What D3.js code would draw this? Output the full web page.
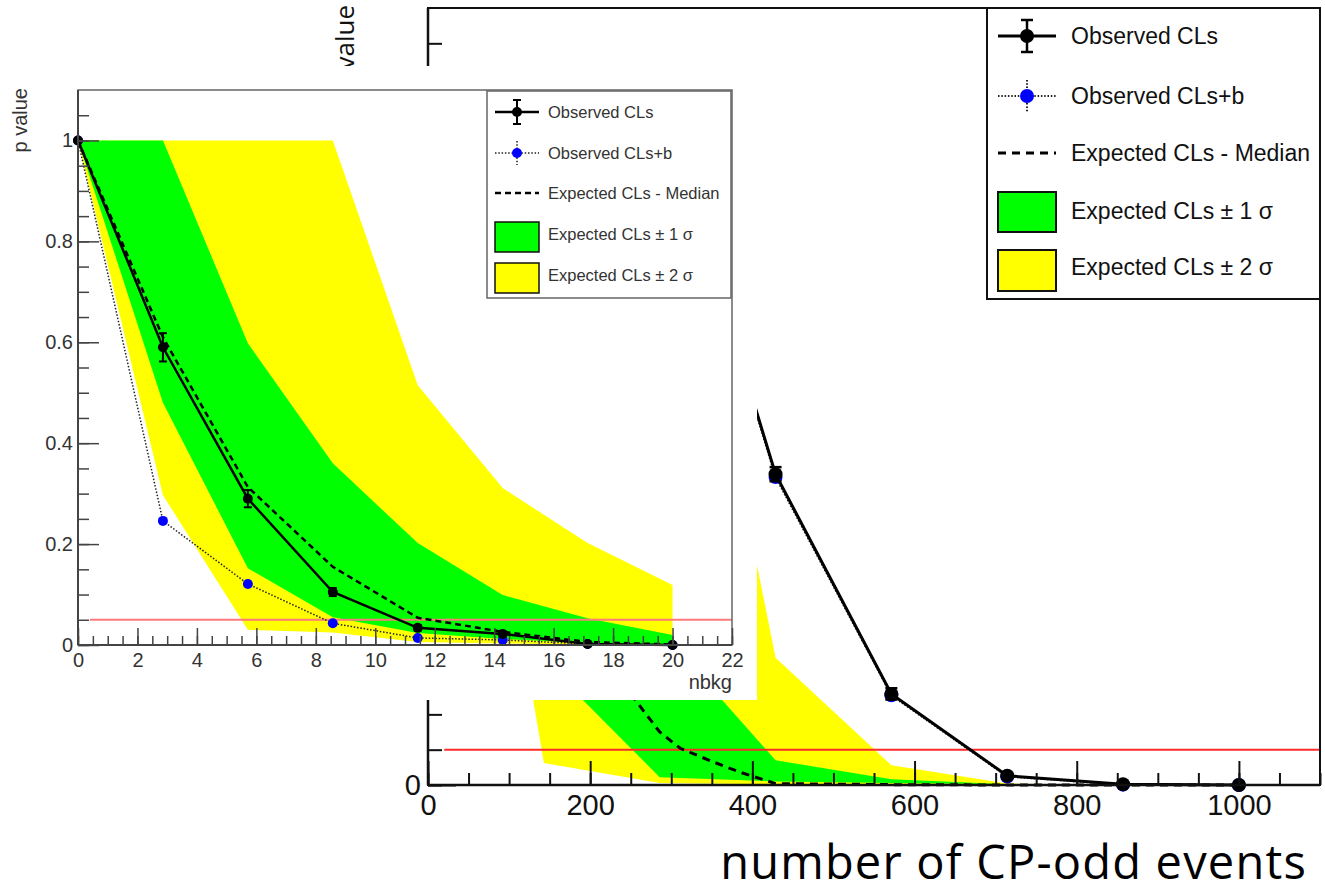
<!DOCTYPE html>
<html>
<head>
<meta charset="utf-8">
<script src="https://cdn.jsdelivr.net/npm/d3@7"></script>
<style>
  body { margin: 0; background: #fff; }
  svg { display: block; }
</style>
</head>
<body>
<svg id="chart"></svg>
<script>
// big scan: number of CP-odd events
const cpX = [0, 142.9, 285.7, 428.6, 571.4, 714.3, 857.1, 1000];
const cpObs = [1, 1, 0.98, 0.44, 0.129, 0.013, 0.001, 0];
const cpObsErr = [0, 0, 0.005, 0.01, 0.008, 0.004, 0.002, 0];
const cpClsb = [1, 1, 0.975, 0.436, 0.127, 0.012, 0.0005, 0];
const cpUp1 = [1, 1, 0.22, 0.035, 0.008, 0.001, 0, 0];
const cpLo1 = [1, 0.176, 0.011, 0.005, 0.003, 0.001, 0, 0];
const cpUp2 = [1, 1, 1, 0.18, 0.028, 0.002, 0, 0];
const cpLo2 = [1, 0.031, 0.003, 0.001, 0, 0, 0, 0];
const cpExpX = [0, 142.9, 285.7, 311, 351, 385, 428.6, 571.4, 714.3, 857.1, 1000];
const cpExp = [1, 0.29, 0.075, 0.052, 0.033, 0.018, 0.002, 0.0005, 0, 0, 0];

// inset scan: nbkg
const nbX = [0, 2.857, 5.714, 8.571, 11.429, 14.286, 17.143, 20];
const nbObs = [1, 0.59, 0.29, 0.105, 0.034, 0.022, 0.002, 0];
const nbObsErr = [0, 0.028, 0.017, 0.008, 0.005, 0.004, 0.002, 0];
const nbClsb = [1, 0.246, 0.121, 0.043, 0.014, 0.01, 0.002, 0];
const nbExp = [1, 0.61, 0.313, 0.155, 0.054, 0.026, 0.006, 0.001];
const nbUp1 = [1, 1, 0.598, 0.36, 0.202, 0.099, 0.053, 0.02];
const nbLo1 = [1, 0.48, 0.152, 0.055, 0.024, 0.012, 0.004, 0.001];
const nbUp2 = [1, 1, 1, 1, 0.515, 0.311, 0.202, 0.119];
const nbLo2 = [1, 0.297, 0.03, 0.025, 0.006, 0.003, 0.001, 0];

const clsLimit = 0.05;
const yMajor = [0, 0.2, 0.4, 0.6, 0.8, 1];
const yMinor = d3.range(0, 22).map(i => i * 0.05);
const cpMajor = [0, 200, 400, 600, 800, 1000];
const cpMinor = d3.range(0, 23).map(i => i * 50);
const nbMajor = d3.range(0, 12).map(i => i * 2);
const nbMinor = d3.range(0, 45).map(i => i * 0.5);

const legendLabels = ['Observed CLs', 'Observed CLs+b', 'Expected CLs - Median',
    'Expected CLs \u00b1 1 \u03c3', 'Expected CLs \u00b1 2 \u03c3'];

const rootFont = "'Liberation Sans', Arial, sans-serif";
const titleFont = "'Open Sans', sans-serif";

const svg = d3.select('#chart').attr('width', 1325).attr('height', 895);

const drawPanel = (p) => {
    const g = svg.append('g');
    const x = d3.scaleLinear().domain(p.xDomain).range([p.left, p.right]);
    const y = d3.scaleLinear().domain([0, 1.1]).range([p.bottom, p.top]);
    const zip = (xs, ...cols) => xs.map((v, i) => [v, ...cols.map(c => c[i])]);
    const band = d3.area().x(d => x(d[0])).y0(d => y(d[1])).y1(d => y(d[2]));
    const line = d3.line().x(d => x(d[0])).y(d => y(d[1]));

    g.append('path').attr('d', band(zip(p.xs, p.lo2, p.up2))).attr('fill', '#ffff00');
    g.append('path').attr('d', band(zip(p.xs, p.lo1, p.up1))).attr('fill', '#00ff00');

    g.append('line')
        .attr('x1', x(p.limitFrom)).attr('x2', p.right)
        .attr('y1', y(clsLimit)).attr('y2', y(clsLimit))
        .attr('stroke', p.red).attr('stroke-width', p.redWidth);

    g.append('path').attr('d', line(zip(p.expX, p.exp)))
        .attr('fill', 'none').attr('stroke', '#000')
        .attr('stroke-width', p.lineWidth).attr('stroke-dasharray', p.dash);

    g.append('path').attr('d', line(zip(p.xs, p.clsb)))
        .attr('fill', 'none').attr('stroke', '#222')
        .attr('stroke-width', p.dotWidth).attr('stroke-dasharray', '1.5,1.8');
    g.selectAll('.clsb').data(zip(p.xs, p.clsb)).enter().append('circle')
        .attr('cx', d => x(d[0])).attr('cy', d => y(d[1]))
        .attr('r', p.r).attr('fill', '#0000ff');

    g.append('path').attr('d', line(zip(p.xs, p.obs)))
        .attr('fill', 'none').attr('stroke', '#000').attr('stroke-width', p.lineWidth);
    const err = g.selectAll('.err').data(zip(p.xs, p.obs, p.obsErr).filter(d => d[2] > 0))
        .enter().append('g').attr('stroke', '#000').attr('stroke-width', p.errWidth);
    err.append('line')
        .attr('x1', d => x(d[0])).attr('x2', d => x(d[0]))
        .attr('y1', d => y(d[1] - d[2])).attr('y2', d => y(d[1] + d[2]));
    [-1, 1].forEach(s => err.append('line')
        .attr('x1', d => x(d[0]) - p.cap).attr('x2', d => x(d[0]) + p.cap)
        .attr('y1', d => y(d[1] + s * d[2])).attr('y2', d => y(d[1] + s * d[2])));
    g.selectAll('.obs').data(zip(p.xs, p.obs)).enter().append('circle')
        .attr('cx', d => x(d[0])).attr('cy', d => y(d[1]))
        .attr('r', p.r).attr('fill', '#000');

    // frame
    g.append('rect')
        .attr('x', p.left).attr('y', p.top)
        .attr('width', p.right - p.left).attr('height', p.bottom - p.top)
        .attr('fill', 'none').attr('stroke', p.frame).attr('stroke-width', p.frameWidth);

    const styleAxis = (a) => {
        a.select('.domain').remove();
        a.selectAll('line').attr('stroke', p.axis).attr('stroke-width', p.tickWidth);
        a.selectAll('text').attr('fill', p.text)
            .style('font-family', rootFont).style('font-size', p.labelSize + 'px');
    };
    g.append('g').attr('transform', `translate(${p.left},0)`)
        .call(d3.axisLeft(y).tickValues(yMinor).tickSize(-p.yMinorLen).tickFormat(''))
        .call(styleAxis);
    g.append('g').attr('transform', `translate(${p.left},0)`)
        .call(d3.axisLeft(y).tickValues(yMajor).tickSize(-p.yMajorLen)
            .tickPadding(p.yPad).tickFormat(v => p.yLabels.includes(v) ? d3.format('~g')(v) : ''))
        .call(styleAxis);
    g.append('g').attr('transform', `translate(0,${p.bottom})`)
        .call(d3.axisBottom(x).tickValues(p.xMinor.filter(v => v <= p.xDomain[1]))
            .tickSize(-p.xMinorLen).tickFormat(''))
        .call(styleAxis);
    g.append('g').attr('transform', `translate(0,${p.bottom})`)
        .call(d3.axisBottom(x).tickValues(p.xMajor).tickSize(-p.xMajorLen)
            .tickPadding(p.xPad).tickFormat(d3.format('~g')))
        .call(styleAxis);

    g.append('line').attr('x1', p.left).attr('x2', p.left)
        .attr('y1', p.top).attr('y2', p.bottom)
        .attr('stroke', p.axis).attr('stroke-width', p.axisWidth);
    g.append('line').attr('x1', p.left).attr('x2', p.right)
        .attr('y1', p.bottom).attr('y2', p.bottom)
        .attr('stroke', p.axis).attr('stroke-width', p.axisWidth);

    // legend
    const L = p.legend;
    g.append('rect')
        .attr('x', L.x0).attr('y', L.y0)
        .attr('width', L.x1 - L.x0).attr('height', L.y1 - L.y0)
        .attr('fill', '#fff').attr('stroke', p.frame).attr('stroke-width', p.frameWidth);
    const sx0 = L.sx0, sx1 = L.sx1, sxm = (sx0 + sx1) / 2;
    const rows = L.rows;
    g.append('line').attr('x1', sx0).attr('x2', sx1).attr('y1', rows[0]).attr('y2', rows[0])
        .attr('stroke', '#000').attr('stroke-width', p.lineWidth);
    g.append('line').attr('x1', sxm).attr('x2', sxm)
        .attr('y1', rows[0] - L.err).attr('y2', rows[0] + L.err)
        .attr('stroke', '#000').attr('stroke-width', p.errWidth);
    [-1, 1].forEach(s => g.append('line')
        .attr('x1', sxm - p.cap).attr('x2', sxm + p.cap)
        .attr('y1', rows[0] + s * L.err).attr('y2', rows[0] + s * L.err)
        .attr('stroke', '#000').attr('stroke-width', p.errWidth));
    g.append('circle').attr('cx', sxm).attr('cy', rows[0]).attr('r', p.r).attr('fill', '#000');

    g.append('line').attr('x1', sx0).attr('x2', sx1).attr('y1', rows[1]).attr('y2', rows[1])
        .attr('stroke', '#222').attr('stroke-width', p.dotWidth).attr('stroke-dasharray', '1.5,1.8');
    g.append('line').attr('x1', sxm).attr('x2', sxm)
        .attr('y1', rows[1] - L.err).attr('y2', rows[1] + L.err)
        .attr('stroke', '#222').attr('stroke-width', p.dotWidth).attr('stroke-dasharray', '1.5,1.8');
    g.append('circle').attr('cx', sxm).attr('cy', rows[1]).attr('r', p.r).attr('fill', '#0000ff');

    g.append('line').attr('x1', sx0).attr('x2', sx1).attr('y1', rows[2]).attr('y2', rows[2])
        .attr('stroke', '#000').attr('stroke-width', p.lineWidth).attr('stroke-dasharray', p.dash);

    [[L.box1, '#00ff00'], [L.box2, '#ffff00']].forEach(([b, c]) => g.append('rect')
        .attr('x', sx0).attr('y', b[0]).attr('width', sx1 - sx0).attr('height', b[1] - b[0])
        .attr('fill', c).attr('stroke', '#111').attr('stroke-width', p.boxStroke));

    g.selectAll('.leg').data(legendLabels).enter().append('text')
        .attr('x', L.tx).attr('y', (d, i) => rows[i])
        .attr('dy', '0.35em')
        .attr('fill', p.text)
        .style('font-family', rootFont).style('font-size', L.size + 'px')
        .text(d => d);
};

drawPanel({
    xDomain: [0, 1100], left: 428, right: 1320, top: 8, bottom: 785,
    xs: cpX, obs: cpObs, obsErr: cpObsErr, clsb: cpClsb, expX: cpExpX, exp: cpExp,
    up1: cpUp1, lo1: cpLo1, up2: cpUp2, lo2: cpLo2,
    limitFrom: 20, red: '#ff2a2a', redWidth: 2,
    lineWidth: 3, dotWidth: 2, errWidth: 2.5, dash: '8,6', r: 7, cap: 6,
    frame: '#111', frameWidth: 2, axis: '#111', tickWidth: 2, axisWidth: 2.5, text: '#111',
    labelSize: 29, yMinorLen: 14, yMajorLen: 28, xMinorLen: 12, xMajorLen: 24,
    xMajor: cpMajor, xMinor: cpMinor, yPad: 7, xPad: 9,
    yLabels: [0], // the other labels sit under the pasted inset
    legend: {
        x0: 987, x1: 1320, y0: 8, y1: 299, sx0: 998, sx1: 1056, tx: 1071, size: 23,
        rows: [36, 96, 153, 211, 267], err: 16, box1: [192, 232], box2: [250, 291]
    },
    boxStroke: 2
});

svg.append('text')
    .attr('transform', 'translate(354,5) rotate(-90)')
    .attr('text-anchor', 'end')
    .attr('fill', '#111')
    .style('font-family', titleFont).style('font-size', '26px')
    .text('p value');

svg.append('text')
    .attr('x', 1307).attr('y', 879)
    .attr('text-anchor', 'end')
    .attr('fill', '#000')
    .style('font-family', titleFont).style('font-size', '47px')
    .style('letter-spacing', '1.2px')
    .text('number of CP-odd events');

// inset picture pasted on top
svg.append('rect').attr('x', 0).attr('y', 66).attr('width', 757).attr('height', 634).attr('fill', '#fff');

drawPanel({
    xDomain: [0, 22], left: 78, right: 732, top: 90, bottom: 645,
    xs: nbX, obs: nbObs, obsErr: nbObsErr, clsb: nbClsb, expX: nbX, exp: nbExp,
    up1: nbUp1, lo1: nbLo1, up2: nbUp2, lo2: nbLo2,
    limitFrom: 0.4, red: '#ff7a7a', redWidth: 2,
    lineWidth: 2.5, dotWidth: 1.5, errWidth: 2, dash: '6,4', r: 5, cap: 4,
    frame: '#666', frameWidth: 1.5, axis: '#444', tickWidth: 1.5, axisWidth: 2, text: '#333',
    labelSize: 20, yMinorLen: 11, yMajorLen: 21, xMinorLen: 9, xMajorLen: 17,
    xMajor: nbMajor, xMinor: nbMinor, yPad: 5, xPad: 8,
    yLabels: yMajor,
    legend: {
        x0: 487, x1: 731, y0: 91, y1: 298, sx0: 495, sx1: 539, tx: 548, size: 16.5,
        rows: [112, 153, 193, 234, 275], err: 12, box1: [222, 252], box2: [263, 293]
    },
    boxStroke: 1.5
});

svg.append('text')
    .attr('transform', 'translate(27,88) rotate(-90)')
    .attr('text-anchor', 'end')
    .attr('fill', '#333')
    .style('font-family', rootFont).style('font-size', '20px')
    .text('p value');

svg.append('text')
    .attr('x', 732).attr('y', 689)
    .attr('text-anchor', 'end')
    .attr('fill', '#333')
    .style('font-family', rootFont).style('font-size', '20px')
    .text('nbkg');
</script>
</body>
</html>
